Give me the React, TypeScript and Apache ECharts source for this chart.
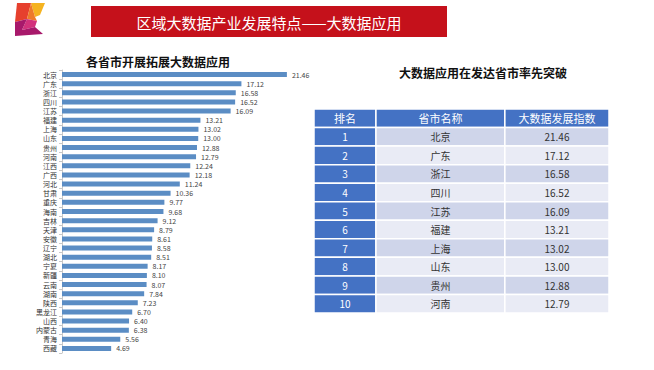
import React, { useEffect, useRef } from "react";
import * as echarts from "echarts";

const provinces = ["北京","广东","浙江","四川","江苏","福建","上海","山东","贵州","河南","江西","广西","河北","甘肃","重庆","海南","吉林","天津","安徽","辽宁","湖北","宁夏","新疆","云南","湖南","陕西","黑龙江","山西","内蒙古","青海","西藏"];
const values = [21.46,17.12,16.58,16.52,16.09,13.21,13.02,13.00,12.88,12.79,12.24,12.18,11.24,10.36,9.77,9.68,9.12,8.79,8.61,8.58,8.51,8.17,8.10,8.07,7.84,7.23,6.70,6.40,6.38,5.56,4.69];
const tableHeaders = ["排名", "省市名称", "大数据发展指数"];
const topCount = 10;
const mainTitle = "区域大数据产业发展特点——大数据应用";
const chartTitle = "各省市开展拓展大数据应用";
const tableTitle = "大数据应用在发达省市率先突破";

const colEdges = [0, 0.21, 0.647, 1];
const FONT = "'Noto Sans CJK SC', 'Noto Sans', sans-serif";

export default function App() {
  const ref = useRef<HTMLDivElement>(null);
  useEffect(() => {
    const chart = echarts.init(ref.current!, null, { renderer: "svg" });

    const tableRows: string[][] = [tableHeaders];
    for (let i = 0; i < topCount; i++) {
      tableRows.push([String(i + 1), provinces[i], values[i].toFixed(2)]);
    }
    const cellData: any[] = [];
    tableRows.forEach((row, r) => row.forEach((txt, c) => cellData.push([c, r, txt])));
    const rowNames = tableRows.map((_, i) => "r" + i);

    chart.setOption({
      animation: false,
      backgroundColor: "#ffffff",
      textStyle: { fontFamily: FONT },
      title: [
        { text: chartTitle, left: 153, top: 50, textAlign: "center",
          textStyle: { fontSize: 12, fontWeight: "bold", color: "#111", fontFamily: FONT } },
        { text: tableTitle, left: 478, top: 61, textAlign: "center",
          textStyle: { fontSize: 12, fontWeight: "bold", color: "#111", fontFamily: FONT } },
      ],
      graphic: [
        { type: "rect", shape: { x: 91, y: 6, width: 356, height: 31 }, style: { fill: "#c5111b" } },
        { type: "text", x: 269, y: 22, style: { text: mainTitle, fill: "#fff", fontSize: 15, fontFamily: FONT, align: "center", verticalAlign: "middle" } },
        { type: "polygon", shape: { points: [[17,3],[31,3],[27,19],[15,22]] }, style: { fill: "#e6402e" } },
        { type: "polygon", shape: { points: [[31,3],[45,3],[40,15],[35,17]] }, style: { fill: "#f5b320" } },
        { type: "polygon", shape: { points: [[31,3],[35,17],[37,21],[27,19]] }, style: { fill: "#ee7a2a" } },
        { type: "polygon", shape: { points: [[27,19],[37,21],[35,27],[22,30]] }, style: { fill: "#d2327c" } },
        { type: "polygon", shape: { points: [[15,22],[27,19],[22,30],[35,27],[43,34],[15,36]] }, style: { fill: "#a8196b" } },
      ],
      grid: [
        { left: 62, top: 70, width: 262, height: 283 },
        { left: 314, top: 109, width: 295, height: 204 },
      ],
      xAxis: [
        { gridIndex: 0, type: "value", min: 0, max: 25, show: false },
        { gridIndex: 1, type: "value", min: 0, max: 1, show: false },
      ],
      yAxis: [
        { gridIndex: 0, type: "category", data: provinces, inverse: true,
          axisLine: { show: true, lineStyle: { color: "#c8c8c8" } },
          axisTick: { show: true, length: 3, lineStyle: { color: "#c8c8c8" } },
          axisLabel: { interval: 0, fontSize: 7, lineHeight: 7, color: "#333", margin: 5, fontFamily: FONT },
          splitLine: { show: false } },
        { gridIndex: 1, type: "category", data: rowNames, inverse: true, show: false },
      ],
      series: [
        { type: "bar", xAxisIndex: 0, yAxisIndex: 0, data: values, barWidth: 5,
          itemStyle: { color: "#5b8dc4" },
          labelLayout: { hideOverlap: false },
          label: { show: true, position: "right", distance: 5, fontSize: 7, lineHeight: 7, color: "#444",
            formatter: (p: any) => Number(p.value).toFixed(2) } },
        { type: "custom", xAxisIndex: 1, yAxisIndex: 1, data: cellData,
          renderItem: (params: any, api: any) => {
            const c = api.value(0) as number;
            const r = api.value(1) as number;
            const txt = cellData[params.dataIndex][2];
            const p0 = api.coord([colEdges[c], r]);
            const p1 = api.coord([colEdges[c + 1], r]);
            const h = api.size([0, 1])[1];
            const blue = r === 0 || c === 0;
            const fill = blue ? "#4472c4" : (r % 2 === 1 ? "#cfd5ea" : "#e9ebf5");
            return {
              type: "group",
              children: [
                { type: "rect", shape: { x: p0[0], y: p0[1] - h / 2, width: p1[0] - p0[0], height: h },
                  style: { fill, stroke: "#ffffff", lineWidth: 1.5 } },
                { type: "text", x: (p0[0] + p1[0]) / 2, y: p0[1],
                  style: { text: txt, fill: blue ? "#ffffff" : "#333333", fontSize: r === 0 ? 11 : 10,
                    fontFamily: FONT, align: "center", verticalAlign: "middle" } },
              ],
            };
          } },
      ],
    });
    return () => chart.dispose();
  }, []);
  return <div ref={ref} style={{ position: "absolute", left: 0, top: 0, width: 654, height: 370 }} />;
}
